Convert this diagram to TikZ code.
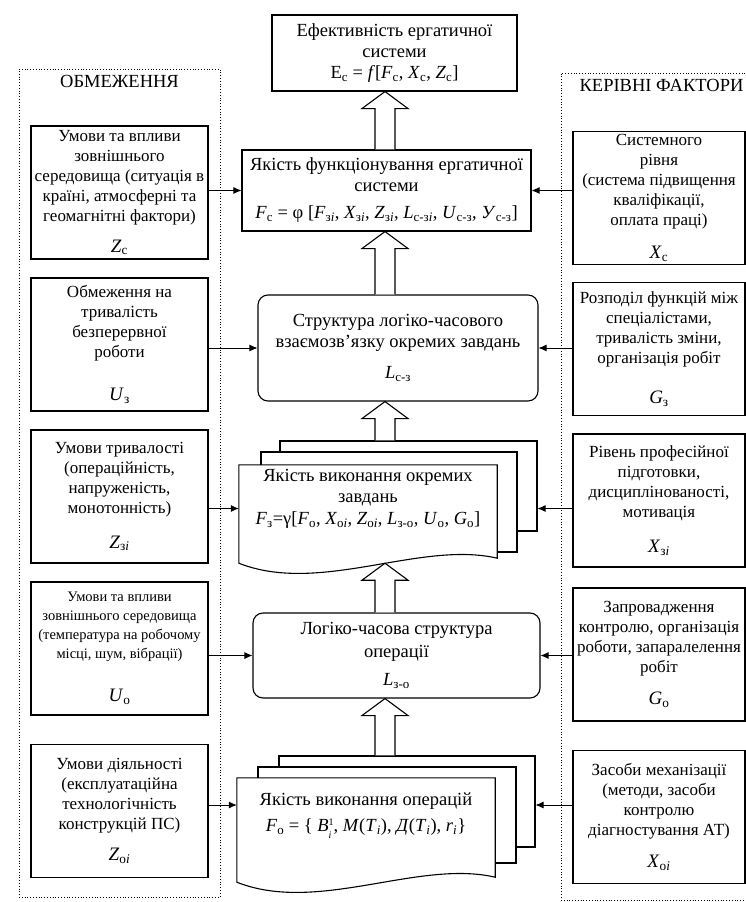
\documentclass[tikz,border=0pt]{standalone}
\usepackage{fontspec}
\setmainfont{Liberation Serif}
\usepackage{tikz}
\usetikzlibrary{shapes, arrows.meta, positioning, calc}
\newcommand{\boxfont}{\fontsize{17}{20}\selectfont}
\newcommand{\mainfont}{\fontsize{18.5}{21}\selectfont}
\newcommand{\ergsym}[2]{\textit{#1}\textsubscript{#2}}
\newcommand{\bigsym}[2]{{\fontsize{19}{20}\selectfont\textit{#1}\textsubscript{#2}}}
\newcommand{\stackidx}[2]{{\fontsize{10}{12.5}\selectfont\begin{tabular}{@{}l@{}}#1\\#2\end{tabular}}}
\newcommand{\blockarrow}[2]{%
  \draw[blockarrow] let \p1=(#1), \p2=(#2) in
    (\x1-10pt,\y1) -- (\x1-10pt,\y2-17pt) -- (\x1-23pt,\y2-17pt) -- (\x1,\y2)
    -- (\x1+23pt,\y2-17pt) -- (\x1+10pt,\y2-17pt) -- (\x1+10pt,\y1);}
\tikzset{
  factornode/.style={draw, rectangle, line width=1.1pt, minimum height=133pt, inner sep=2pt, align=center, font=\boxfont},
  limitnode/.style={factornode, minimum width=177pt},
  controlnode/.style={factornode, minimum width=172pt},
  mainnode/.style={draw, rectangle, line width=1.1pt, inner sep=2pt, align=center, font=\mainfont},
  roundnode/.style={mainnode, rounded corners=10pt},
  layernode/.style={draw, rectangle, line width=1.1pt, fill=white},
  frontnode/.style={rectangle, fill=white, inner sep=2pt, align=center, font=\mainfont},
  groupnode/.style={draw, dotted, line width=0.8pt, inner sep=0pt},
  headnode/.style={font=\fontsize{18.5}{20}\selectfont},
  arrow/.style={-{Latex[length=8pt,width=7pt]}, line width=0.8pt},
  blockarrow/.style={line width=1.1pt, fill=white}
}
\begin{document}
\begin{tikzpicture}[x=1pt, y=-1pt]
\useasboundingbox (0,0) rectangle (746,902);

% Groups
\node[groupnode, minimum width=201pt, minimum height=828pt] (limits) at (119.5,483) {};
\node[headnode, below=3pt of limits.north] (limitshead) {ОБМЕЖЕННЯ};
\node[groupnode, minimum width=191pt, minimum height=827pt] (controls) at (656.5,486.5) {};
\node[headnode, below=3pt of controls.north, xshift=5pt] (controlshead) {КЕРІВНІ ФАКТОРИ};

% Limits
\node[limitnode] (Zc) at (119.5,192.5) {Умови та впливи\\зовнішнього\\середовища (ситуація в\\країні, атмосферні та\\геомагнітні фактори)\\[11pt]\bigsym{Z}{с}};
\node[limitnode] (Uz) at (119.5,344.5) {Обмеження на\\тривалість\\безперервної\\роботи\\[23pt]\bigsym{U}{з}};
\node[limitnode] (Zzi) at (119.5,496.5) {Умови тривалості\\(операційність,\\напруженість,\\монотонність)\\[15pt]\bigsym{Z}{з\textit{i}}};
\node[limitnode, font=\fontsize{14.5}{19}\selectfont] (Uo) at (119.5,648.5) {Умови та впливи\\зовнішнього середовища\\(температура на робочому\\місці, шум, вібрації)\\[24pt]\bigsym{U}{о}};
\node[limitnode] (Zoi) at (119.5,811) {Умови діяльності\\(експлуатаційна\\технологічність\\конструкцій ПС)\\[11pt]\bigsym{Z}{о\textit{i}}};

% Control factors
\node[controlnode] (Xc) at (659,198) {Системного\\рівня\\(система підвищення\\кваліфікації,\\оплата праці)\\[13pt]\bigsym{X}{с}};
\node[controlnode] (Gz) at (659,349) {Розподіл функцій між\\спеціалістами,\\тривалість зміни,\\організація робіт\\[20pt]\bigsym{G}{з}};
\node[controlnode] (Xzi) at (659,500.5) {Рівень професійної\\підготовки,\\дисциплінованості,\\мотивація\\[15pt]\bigsym{X}{з\textit{i}}};
\node[controlnode] (Go) at (659,654.5) {Запровадження\\контролю, організація\\роботи, запаралелення\\робіт\\[12pt]\bigsym{G}{о}};
\node[controlnode] (Xoi) at (659,817) {Засоби механізації\\(методи, засоби\\контролю\\діагностування АТ)\\[12pt]\bigsym{X}{о\textit{i}}};

% Main chain
\coordinate (spine) at (385,0);
\node[mainnode, minimum width=245pt, minimum height=76pt] (eff) at (394.5,53) {Ефективність ергатичної\\системи\\Е\textsubscript{с} = \textit{f}[\ergsym{F}{с}, \ergsym{X}{с}, \ergsym{Z}{с}]};
\node[mainnode, minimum width=289pt, minimum height=81pt] (quality) at (386.5,190.5) {Якість функціонування ергатичної\\системи\\[6pt]\ergsym{F}{с} = φ [\ergsym{F}{з\textit{i}}, \ergsym{X}{з\textit{i}}, \ergsym{Z}{з\textit{i}}, \ergsym{L}{с-з\textit{i}}, \ergsym{U}{с-з}, \ergsym{У}{с-з}]};
\node[roundnode, minimum width=280pt, minimum height=106pt] (struct) at (398,348) {Структура логіко-часового\\взаємозв’язку окремих завдань\\[10pt]\ergsym{L}{с-з}};

\node[layernode, minimum width=257pt, minimum height=90pt] (tasksback) at (408.5,486) {};
\node[layernode, minimum width=256pt, minimum height=100pt] (tasksmid) at (389,502) {};
\node[frontnode, minimum width=258pt, minimum height=95pt] (tasks) at (368,512.5) {Якість виконання окремих\\завдань\\[1pt]\ergsym{F}{з}=γ[\ergsym{F}{о}, \ergsym{X}{о\textit{i}}, \ergsym{Z}{о\textit{i}}, \ergsym{L}{з-о}, \ergsym{U}{о}, \ergsym{G}{о}]\\[10pt]\mbox{}};
\draw[line width=1.1pt] (tasks.north west) -- (tasks.north east) -- ($(tasks.south east)+(0,-2)$)
  .. controls +(-77,-18) and +(81,32) .. ($(tasks.south west)+(0,3)$) -- cycle;

\node[roundnode, minimum width=287pt, minimum height=85pt] (logic) at (396.5,655.5) {Логіко-часова структура\\[2pt]операції\\[7pt]\ergsym{L}{з-о}};

\node[layernode, minimum width=256pt, minimum height=91pt] (opsback) at (407,801.5) {};
\node[layernode, minimum width=258pt, minimum height=96pt] (opsmid) at (387,815) {};
\node[frontnode, minimum width=258pt, minimum height=102pt] (ops) at (366,829) {Якість виконання операцій\\[5pt]\ergsym{F}{о} = \{ \textit{B}\stackidx{1}{\textit{i}}, \textit{M}(\ergsym{T}{\textit{i}}), \textit{Д}(\ergsym{T}{\textit{i}}), \ergsym{r}{\textit{i}}\}\\[12pt]\mbox{}};
\draw[line width=1.1pt] (ops.north west) -- (ops.north east) -- ($(ops.south east)+(0,-3)$)
  .. controls +(-77,-18) and +(81,32) .. ($(ops.south west)+(0,2)$) -- cycle;

\coordinate (tasksin) at ($(tasks.west)+(0,-4)$);
\coordinate (opsin) at ($(ops.west)+(0,-24)$);

% Connections
\draw[arrow] (Zc.east |- quality.west) -- (quality.west);
\draw[arrow] (Xc.west |- quality.east) -- (quality.east);
\draw[arrow] (Uz.east |- struct.west) -- (struct.west);
\draw[arrow] (Gz.west |- struct.east) -- (struct.east);
\draw[arrow] (Zzi.east |- tasksin) -- (tasksin);
\draw[arrow] (Xzi.west |- tasksin) -- (tasksback.east |- tasksin);
\draw[arrow] (Uo.east |- logic.west) -- (logic.west);
\draw[arrow] (Go.west |- logic.east) -- (logic.east);
\draw[arrow] (Zoi.east |- opsin) -- (opsin);
\draw[arrow] (Xoi.west |- opsin) -- (opsback.east |- opsin);

\blockarrow{spine |- quality.north}{spine |- eff.south}
\blockarrow{spine |- struct.north}{spine |- quality.south}
\blockarrow{spine |- tasksback.north}{spine |- struct.south}
\blockarrow{spine |- logic.north}{$(spine |- tasks.south)+(0,3)$}
\blockarrow{spine |- opsback.north}{spine |- logic.south}

\end{tikzpicture}
\end{document}
